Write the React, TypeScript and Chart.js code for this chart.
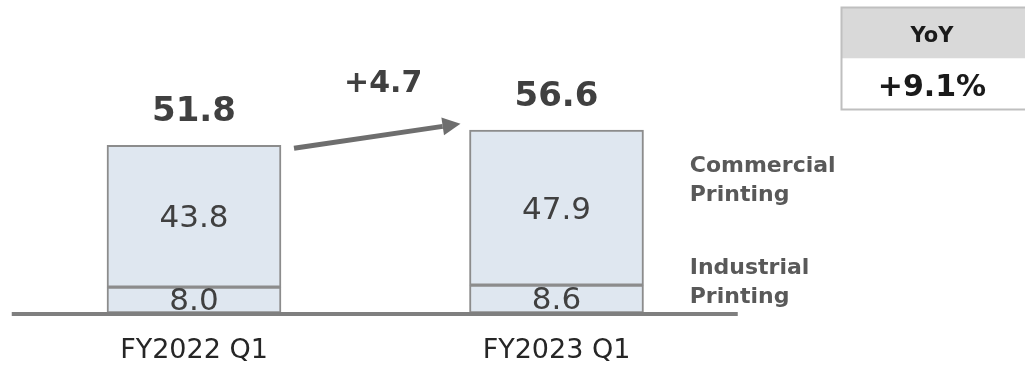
import React, { useEffect, useRef } from "react";
import { Chart, registerables } from "chart.js";

Chart.register(...registerables);

// Sales by segment (billion yen)
const categories = ["FY2022 Q1", "FY2023 Q1"];
const industrial = [8.0, 8.6];
const commercial = [43.8, 47.9];
const totals = [51.8, 56.6];
const changeLabel = "+4.7";
const yoyHeader = "YoY";
const yoyValue = "+9.1%";
const segmentNames = [
  ["Commercial", "Printing"],
  ["Industrial", "Printing"],
];

const FONT = "'DejaVu Sans', Verdana, sans-serif";
const BAR_FILL = "#dfe7f0";
const BAR_EDGE = "#8c8c8c";
const TEXT = "#404040";

const overlay = {
  id: "overlay",
  afterDatasetsDraw(chart: any) {
    const { ctx, scales, chartArea } = chart;
    const x = scales.x;
    const y = scales.y;
    const half = 87;
    ctx.save();

    // values inside each segment
    ctx.fillStyle = TEXT;
    ctx.font = `31px ${FONT}`;
    ctx.textAlign = "center";
    ctx.textBaseline = "middle";
    categories.forEach((_, i) => {
      const cx = x.getPixelForValue(i);
      const y0 = y.getPixelForValue(0);
      const y1 = y.getPixelForValue(industrial[i]);
      const y2 = y.getPixelForValue(industrial[i] + commercial[i]);
      ctx.fillText(industrial[i].toFixed(1), cx, (y0 + y1) / 2 + 2);
      ctx.fillText(commercial[i].toFixed(1), cx, (y1 + y2) / 2 + 3);
    });

    // totals above the bars
    ctx.font = `bold 34px ${FONT}`;
    categories.forEach((_, i) => {
      const cx = x.getPixelForValue(i);
      ctx.fillText(totals[i].toFixed(1), cx, y.getPixelForValue(totals[i]) - 33);
    });

    // growth arrow
    const sx = x.getPixelForValue(0) + half + 13;
    const sy = y.getPixelForValue(totals[0]) + 3;
    const ex = x.getPixelForValue(1) - half - 9;
    const ey = y.getPixelForValue(totals[1]) - 6;
    const ang = Math.atan2(ey - sy, ex - sx);
    const headLen = 18;
    const headW = 9;
    const bx = ex - headLen * Math.cos(ang);
    const by = ey - headLen * Math.sin(ang);
    ctx.strokeStyle = "#6e6e6e";
    ctx.fillStyle = "#6e6e6e";
    ctx.lineWidth = 5;
    ctx.beginPath();
    ctx.moveTo(sx, sy);
    ctx.lineTo(bx, by);
    ctx.stroke();
    ctx.beginPath();
    ctx.moveTo(ex, ey);
    ctx.lineTo(bx + headW * Math.sin(ang), by - headW * Math.cos(ang));
    ctx.lineTo(bx - headW * Math.sin(ang), by + headW * Math.cos(ang));
    ctx.closePath();
    ctx.fill();

    ctx.fillStyle = TEXT;
    ctx.font = `bold 30px ${FONT}`;
    ctx.textAlign = "center";
    ctx.fillText(changeLabel, (sx + ex) / 2 + 6, 84);

    // baseline
    ctx.strokeStyle = "#7f7f7f";
    ctx.lineWidth = 4;
    ctx.beginPath();
    ctx.moveTo(chartArea.left - 1, chartArea.bottom + 1);
    ctx.lineTo(chartArea.right, chartArea.bottom + 1);
    ctx.stroke();

    // segment names on the right
    ctx.fillStyle = "#595959";
    ctx.font = `bold 22px ${FONT}`;
    ctx.textAlign = "left";
    const lx = chartArea.right - 48;
    [166, 268].forEach((ly, k) => {
      ctx.fillText(segmentNames[k][0], lx, ly);
      ctx.fillText(segmentNames[k][1], lx, ly + 29);
    });

    // YoY box
    const bxL = 841.5;
    const bxR = 1030;
    const bTop = 7.5;
    const bMid = 58.5;
    const bBot = 109.5;
    ctx.fillStyle = "#d9d9d9";
    ctx.fillRect(bxL, bTop, bxR - bxL, bMid - bTop);
    ctx.fillStyle = "#ffffff";
    ctx.fillRect(bxL, bMid, bxR - bxL, bBot - bMid);
    ctx.strokeStyle = "#bfbfbf";
    ctx.lineWidth = 2;
    ctx.strokeRect(bxL, bTop, bxR - bxL, bBot - bTop);
    ctx.fillStyle = "#1a1a1a";
    ctx.textAlign = "center";
    ctx.font = `bold 21px ${FONT}`;
    ctx.fillText(yoyHeader, 932, 37);
    ctx.font = `bold 30px ${FONT}`;
    ctx.fillText(yoyValue, 932, 88);

    ctx.restore();
  },
};

export default function App() {
  const ref = useRef<HTMLCanvasElement>(null);

  useEffect(() => {
    if (!ref.current) return;
    const chart = new Chart(ref.current, {
      type: "bar",
      data: {
        labels: categories,
        datasets: [
          {
            label: "Industrial Printing",
            data: industrial,
            backgroundColor: BAR_FILL,
            borderColor: BAR_EDGE,
            borderWidth: 2,
            borderSkipped: false,
            barThickness: 174,
          },
          {
            label: "Commercial Printing",
            data: commercial,
            backgroundColor: BAR_FILL,
            borderColor: BAR_EDGE,
            borderWidth: 2,
            borderSkipped: false,
            barThickness: 174,
          },
        ],
      },
      options: {
        responsive: false,
        animation: false,
        devicePixelRatio: 1,
        layout: { padding: { top: 54, left: 12.75, right: 287.25, bottom: 0 } },
        plugins: {
          legend: { display: false },
          tooltip: { enabled: false },
        },
        scales: {
          x: {
            stacked: true,
            grid: { display: false, drawTicks: false },
            border: { display: false },
            ticks: {
              color: "#262626",
              font: { family: FONT, size: 27 },
              padding: 22,
            },
            afterFit: (s: any) => {
              s.height = 53;
            },
          },
          y: {
            stacked: true,
            display: false,
            min: 0,
            max: 80,
          },
        },
      },
      plugins: [overlay],
    });
    return () => chart.destroy();
  }, []);

  return (
    <div style={{ position: "fixed", left: 0, top: 0 }}>
      <canvas ref={ref} width={1025} height={366} />
    </div>
  );
}
